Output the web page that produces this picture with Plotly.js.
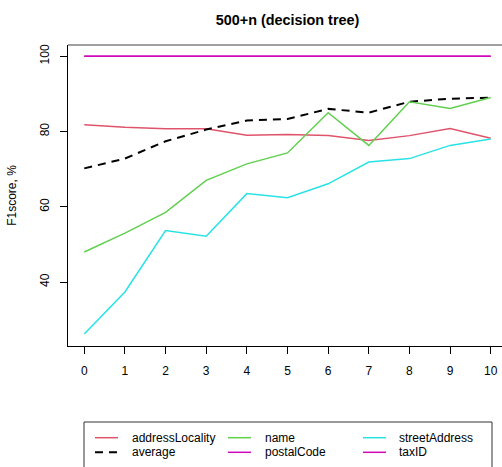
<!DOCTYPE html>
<html>
<head>
<meta charset="utf-8">
<script src="https://cdn.plot.ly/plotly-3.0.1.min.js"></script>
<style>
  html, body { margin: 0; padding: 0; overflow: hidden; background: #fff; }
  #chart { width: 512px; height: 467px; }
</style>
</head>
<body>
<div id="chart"></div>
<script>
// number of added training samples (n)
const steps = [0, 1, 2, 3, 4, 5, 6, 7, 8, 9, 10];

// F1 score (%) per field
const addressLocality = [81.8, 81.1, 80.7, 80.7, 79.0, 79.2, 78.9, 77.6, 78.9, 80.8, 78.2];
const average         = [70.2, 72.8, 77.4, 80.5, 82.9, 83.3, 86.0, 85.0, 87.9, 88.7, 89.0];
const name            = [48.0, 53.0, 58.5, 67.0, 71.4, 74.3, 85.0, 76.3, 87.9, 86.1, 89.0];
const postalCode      = [100, 100, 100, 100, 100, 100, 100, 100, 100, 100, 100];
const streetAddress   = [26.2, 37.4, 53.7, 52.2, 63.5, 62.4, 66.1, 71.9, 72.8, 76.3, 78.0];
const taxID           = [100, 100, 99.8, 100, 100, 100, 100, 100, 100, 100, 100];

const seriesNames  = ["addressLocality", "average", "name", "postalCode", "streetAddress", "taxID"];
const seriesValues = [addressLocality, average, name, postalCode, streetAddress, taxID];
const seriesColors = ["#DF536B", "#000000", "#61D04F", "#CD0BBC", "#28E2E5", "#CD0BBC"];
const seriesDash   = ["solid", "8px,6px", "solid", "solid", "solid", "solid"];
const seriesWidth  = [1.5, 2, 1.5, 1.5, 1.5, 1.5];

const yTicks = [40, 60, 80, 100];

// plot-area geometry in pixels (used to place the boxed legend below the axes)
const W = 512, H = 467;
const M = { l: 68, r: 5, t: 45, b: 121 };
const plotW = W - M.l - M.r, plotH = H - M.t - M.b;
const px = x => (x - M.l) / plotW;
const py = y => (H - M.b - y) / plotH;

const traces = seriesNames.map((nm, i) => ({
  x: steps,
  y: seriesValues[i],
  type: "scatter",
  mode: "lines",
  name: nm,
  showlegend: false,
  line: { color: seriesColors[i], width: seriesWidth[i], dash: seriesDash[i] },
  hoverinfo: "x+y+name"
}));

// legend: 3 columns, filled column by column
const shapes = [];
const annotations = [];
const colLine = [95, 228, 363];
const colText = [130, 263, 397];
const rowY = [437.7, 452.3];
seriesNames.forEach((nm, i) => {
  const c = Math.floor(i / 2), r = i % 2;
  shapes.push({
    type: "line", xref: "paper", yref: "paper",
    x0: px(colLine[c]), x1: px(colLine[c] + 23),
    y0: py(rowY[r]), y1: py(rowY[r]),
    line: { color: seriesColors[i], width: seriesWidth[i], dash: seriesDash[i] }
  });
  annotations.push({
    text: nm, xref: "paper", yref: "paper",
    x: px(colText[c]), y: py(rowY[r]),
    xanchor: "left", yanchor: "middle", showarrow: false,
    font: { family: "Liberation Sans, Arial, sans-serif", size: 12, color: "#000" }
  });
});
// legend frame
shapes.push({
  type: "rect", xref: "paper", yref: "paper",
  x0: px(84), x1: px(492), y0: py(422), y1: py(472),
  line: { color: "#333", width: 1 }, fillcolor: "rgba(0,0,0,0)"
});
// top edge of the plot frame
shapes.push({
  type: "line", xref: "paper", yref: "paper",
  x0: 0, x1: 1, y0: 1, y1: 1,
  line: { color: "#808080", width: 1.5 }
});

const font = { family: "Liberation Sans, Arial, sans-serif", size: 12, color: "#000" };

const layout = {
  width: W, height: H,
  margin: M,
  paper_bgcolor: "#fff",
  plot_bgcolor: "#fff",
  font: font,
  title: {
    text: "<b>500+n (decision tree)</b>",
    font: { family: "Liberation Sans, Arial, sans-serif", size: 14.4, color: "#000" },
    x: 0.5, xref: "paper", xanchor: "center",
    y: 1 - 20 / H, yref: "container", yanchor: "middle"
  },
  xaxis: {
    range: [-0.4, 10.4],
    tickmode: "array", tickvals: steps, ticktext: steps.map(String),
    showgrid: false, zeroline: false,
    showline: true, linecolor: "#000", linewidth: 1, mirror: false,
    ticks: "outside", ticklen: 7, tickcolor: "#000", tickwidth: 1,
    ticklabelstandoff: 7,
    tickfont: font, fixedrange: true
  },
  yaxis: {
    range: [23.04, 102.96],
    tickmode: "array", tickvals: yTicks, ticktext: yTicks.map(String),
    tickangle: -90,
    showgrid: false, zeroline: false,
    showline: true, linecolor: "#000", linewidth: 1, mirror: false,
    ticks: "outside", ticklen: 7, tickcolor: "#000", tickwidth: 1,
    ticklabelstandoff: 6,
    tickfont: font, fixedrange: true,
    title: { text: "F1score, %", font: font, standoff: 19 }
  },
  shapes: shapes,
  annotations: annotations,
  showlegend: false
};

Plotly.newPlot("chart", traces, layout, { displayModeBar: false, staticPlot: true });
</script>
</body>
</html>
